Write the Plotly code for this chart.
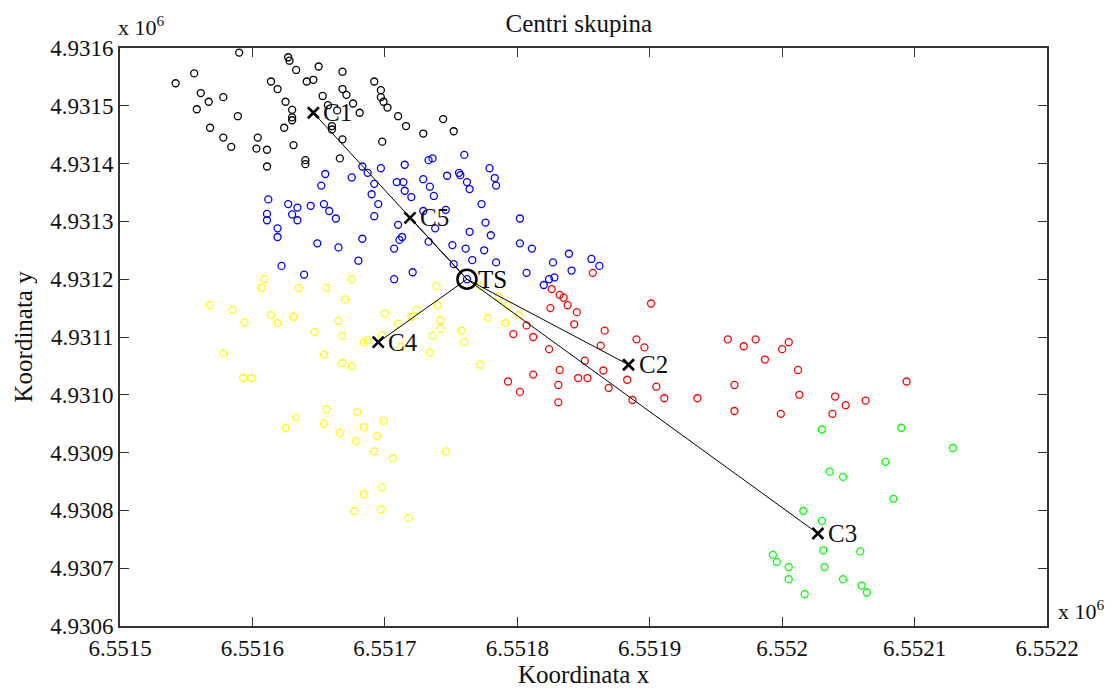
import plotly.graph_objects as go

# cluster points (metres)
black_x = [6551590, 6551627, 6551628, 6551633, 6551650, 6551668, 6551556, 6551542, 6551614, 6551619,
           6551641, 6551646, 6551692, 6551668, 6551671, 6551697, 6551697, 6551699, 6551702, 6551561,
           6551567, 6551578, 6551558, 6551589, 6551625, 6551630, 6551630, 6551630, 6551653, 6551657,
           6551664, 6551676, 6551681, 6551660, 6551660, 6551710, 6551716, 6551729, 6551568, 6551578,
           6551584, 6551624, 6551604, 6551603, 6551611, 6551631, 6551668, 6551698, 6551611, 6551640,
           6551640, 6551666, 6551744, 6551752]
black_y = [4931592, 4931584, 4931578, 4931562, 4931568, 4931559, 4931556, 4931539, 4931542, 4931529,
           4931542, 4931545, 4931542, 4931529, 4931519, 4931527, 4931515, 4931507, 4931497, 4931522,
           4931507, 4931515, 4931494, 4931482, 4931507, 4931493, 4931480, 4931475, 4931517, 4931501,
           4931492, 4931504, 4931488, 4931465, 4931459, 4931482, 4931465, 4931452, 4931462, 4931445,
           4931429, 4931462, 4931445, 4931426, 4931424, 4931432, 4931442, 4931438, 4931395, 4931406,
           4931399, 4931409, 4931477, 4931456]

blue_x = [6551733, 6551736, 6551683, 6551687, 6551697, 6551715, 6551655, 6551675, 6551652, 6551692,
          6551709, 6551714, 6551715, 6551720, 6551729, 6551734, 6551737, 6551690, 6551695, 6551612,
          6551627, 6551634, 6551630, 6551634, 6551644, 6551654, 6551658, 6551663, 6551611, 6551611,
          6551692, 6551729, 6551710, 6551619, 6551619, 6551649, 6551665, 6551683, 6551713, 6551711,
          6551707, 6551733, 6551680, 6551622, 6551639, 6551707, 6551721, 6551738, 6551760, 6551747,
          6551756, 6551757, 6551762, 6551764, 6551779, 6551783, 6551784, 6551773, 6551746, 6551776,
          6551764, 6551780, 6551802, 6551751, 6551761, 6551775, 6551802, 6551811, 6551766, 6551784,
          6551752, 6551839, 6551856, 6551862, 6551827, 6551841, 6551807, 6551828, 6551824, 6551820,
          6551762]
blue_y = [4931406, 4931409, 4931395, 4931384, 4931392, 4931398, 4931382, 4931376, 4931362, 4931365,
          4931368, 4931368, 4931353, 4931342, 4931373, 4931360, 4931344, 4931347, 4931330, 4931338,
          4931330, 4931324, 4931312, 4931302, 4931327, 4931330, 4931318, 4931305, 4931313, 4931302,
          4931309, 4931318, 4931294, 4931288, 4931273, 4931262, 4931255, 4931270, 4931273, 4931268,
          4931253, 4931265, 4931232, 4931223, 4931208, 4931200, 4931212, 4931288, 4931415, 4931379,
          4931384, 4931380, 4931368, 4931356, 4931392, 4931375, 4931362, 4931330, 4931320, 4931298,
          4931282, 4931276, 4931305, 4931259, 4931253, 4931250, 4931262, 4931253, 4931233, 4931229,
          4931226, 4931244, 4931235, 4931223, 4931229, 4931215, 4931211, 4931203, 4931200, 4931190,
          4931200]

red_x = [6551857, 6551826, 6551832, 6551835, 6551838, 6551845, 6551825, 6551901, 6551843, 6551807,
         6551797, 6551812, 6551866, 6551824, 6551863, 6551890, 6551896, 6551851, 6551832, 6551865,
         6551812, 6551793, 6551802, 6551831, 6551846, 6551853, 6551883, 6551869, 6551831, 6551887,
         6551905, 6551911, 6551936, 6551959, 6551971, 6551980, 6551964, 6551964, 6552000, 6552005,
         6551987, 6552012, 6552094, 6552013, 6552040, 6552048, 6552063, 6551999, 6552038]
red_y = [4931211, 4931183, 4931173, 4931168, 4931155, 4931143, 4931150, 4931158, 4931122, 4931120,
         4931105, 4931100, 4931111, 4931079, 4931085, 4931096, 4931082, 4931059, 4931043, 4931042,
         4931035, 4931023, 4931005, 4931017, 4931029, 4931029, 4931026, 4931012, 4930987, 4930991,
         4931014, 4930994, 4930994, 4931096, 4931084, 4931096, 4931017, 4930972, 4931079, 4931091,
         4931061, 4931043, 4931023, 4931000, 4930997, 4930982, 4930990, 4930967, 4930967]

green_x = [6552030, 6552090, 6552129, 6552078, 6552036, 6552046, 6552084, 6552016, 6552030, 6552031,
           6552059, 6551993, 6551996, 6552005, 6552005, 6552032, 6552046, 6552060, 6552064, 6552017]
green_y = [4930940, 4930943, 4930908, 4930884, 4930867, 4930858, 4930820, 4930799, 4930782, 4930731,
           4930729, 4930723, 4930711, 4930702, 4930681, 4930702, 4930681, 4930670, 4930658, 4930655]

yellow_x = [6551739, 6551772, 6551786, 6551793, 6551740, 6551801, 6551778, 6551791, 6551742, 6551609,
            6551607, 6551635, 6551656, 6551675, 6551670, 6551568, 6551585, 6551614, 6551631, 6551665,
            6551700, 6551720, 6551724, 6551594, 6551619, 6551710, 6551647, 6551668, 6551684, 6551687,
            6551698, 6551712, 6551736, 6551734, 6551578, 6551654, 6551668, 6551675, 6551593, 6551599,
            6551656, 6551679, 6551633, 6551625, 6551654, 6551666, 6551684, 6551699, 6551678, 6551694,
            6551692, 6551706, 6551698, 6551684, 6551677, 6551697, 6551718, 6551742, 6551758, 6551760,
            6551772, 6551746]
yellow_y = [4931188, 4931188, 4931170, 4931155, 4931155, 4931138, 4931133, 4931124, 4931129, 4931200,
            4931185, 4931185, 4931185, 4931200, 4931165, 4931155, 4931147, 4931138, 4931135, 4931128,
            4931141, 4931135, 4931147, 4931125, 4931124, 4931123, 4931109, 4931102, 4931091, 4931094,
            4931103, 4931083, 4931102, 4931073, 4931072, 4931069, 4931055, 4931049, 4931029, 4931029,
            4930975, 4930970, 4930961, 4930943, 4930950, 4930934, 4930944, 4930955, 4930920, 4930929,
            4930902, 4930890, 4930840, 4930828, 4930799, 4930802, 4930787, 4931114, 4931111, 4931091,
            4931052, 4930902]

# cluster centres and overall centre
centre_names = ['C1', 'C2', 'C3', 'C4', 'C5']
centre_x = [6551646, 6551884, 6552027, 6551695, 6551719]
centre_y = [4931488, 4931052, 4930760, 4931091, 4931306]
ts_x = 6551762
ts_y = 4931200

x_ticks = [6551500, 6551600, 6551700, 6551800, 6551900, 6552000, 6552100, 6552200]
x_labels = ['6.5515', '6.5516', '6.5517', '6.5518', '6.5519', '6.552', '6.5521', '6.5522']
y_ticks = [4930600 + 100 * i for i in range(11)]
y_labels = ['4.9306', '4.9307', '4.9308', '4.9309', '4.9310', '4.9311',
            '4.9312', '4.9313', '4.9314', '4.9315', '4.9316']

FONT = 'Liberation Serif, Times New Roman, serif'

fig = go.Figure()

for xs, ys, col in [(black_x, black_y, '#000000'), (blue_x, blue_y, '#0000ff'),
                    (red_x, red_y, '#ff0000'), (green_x, green_y, '#00ff00'),
                    (yellow_x, yellow_y, '#ffff00')]:
    fig.add_trace(go.Scatter(x=xs, y=ys, mode='markers',
                             marker=dict(symbol='circle-open', size=7, color=col,
                                         line=dict(width=1.3, color=col))))

# lines from TS to each centre
for cx, cy in zip(centre_x, centre_y):
    fig.add_trace(go.Scatter(x=[ts_x, cx], y=[ts_y, cy], mode='lines',
                             line=dict(color='black', width=1)))

fig.add_trace(go.Scatter(x=centre_x, y=centre_y, mode='markers',
                         marker=dict(symbol='x-thin-open', size=11, color='black',
                                     line=dict(width=2.6, color='black'))))
fig.add_trace(go.Scatter(x=[ts_x], y=[ts_y], mode='markers',
                         marker=dict(symbol='circle-open', size=19, color='black',
                                     line=dict(width=2.6, color='black'))))

for name, cx, cy in zip(centre_names, centre_x, centre_y):
    fig.add_annotation(x=cx, y=cy, text=name, showarrow=False, xanchor='left',
                       xshift=8, font=dict(size=25, color='#111111', family=FONT))
fig.add_annotation(x=ts_x, y=ts_y, text='TS', showarrow=False, xanchor='left',
                   xshift=9, font=dict(size=25, color='#000000', family=FONT))

# exponent notes
fig.add_annotation(xref='paper', yref='paper', x=-0.004, y=1.0, yanchor='bottom', yshift=6,
                   xanchor='left', text='x 10<sup>6</sup>', showarrow=False,
                   font=dict(size=22, color='#111111', family=FONT))
fig.add_annotation(xref='paper', yref='paper', x=1.01, y=0.0, yanchor='bottom',
                   xanchor='left', text='x 10<sup>6</sup>', showarrow=False,
                   font=dict(size=22, color='#111111', family=FONT))

# axis titles placed by hand
fig.add_annotation(xref='paper', yref='paper', x=0.5, y=0, yanchor='top', yshift=-33,
                   text='Koordinata x', showarrow=False,
                   font=dict(size=25, color='#111111', family=FONT))
fig.add_annotation(xref='paper', yref='paper', x=0, y=0.5, xanchor='right', xshift=-82,
                   textangle=-90, text='Koordinata y', showarrow=False,
                   font=dict(size=25, color='#111111', family=FONT))

axis_common = dict(showgrid=False, zeroline=False, ticks='inside', ticklen=9,
                   tickwidth=1.3, tickcolor='#333333', showline=True, linewidth=2,
                   linecolor='#333333', mirror='ticks', automargin=False,
                   tickfont=dict(size=23, color='#111111', family=FONT))

# page has an 8px body margin, so the figure is a bit smaller than the window
fig.update_layout(
    width=1109, height=681,
    plot_bgcolor='white', paper_bgcolor='white',
    showlegend=False,
    margin=dict(l=112, r=70, t=40, b=63, autoexpand=False),
    title=dict(text='Centri skupina', x=0.495, xref='paper', xanchor='center',
               y=0.978, yanchor='middle', automargin=False,
               font=dict(size=25, color='#111111', family=FONT)),
    xaxis=dict(range=[6551500, 6552200], tickvals=x_ticks, ticktext=x_labels,
               **axis_common),
    yaxis=dict(range=[4930600, 4931600], tickvals=y_ticks, ticktext=y_labels,
               **axis_common),
)

fig.write_html('out.html')
